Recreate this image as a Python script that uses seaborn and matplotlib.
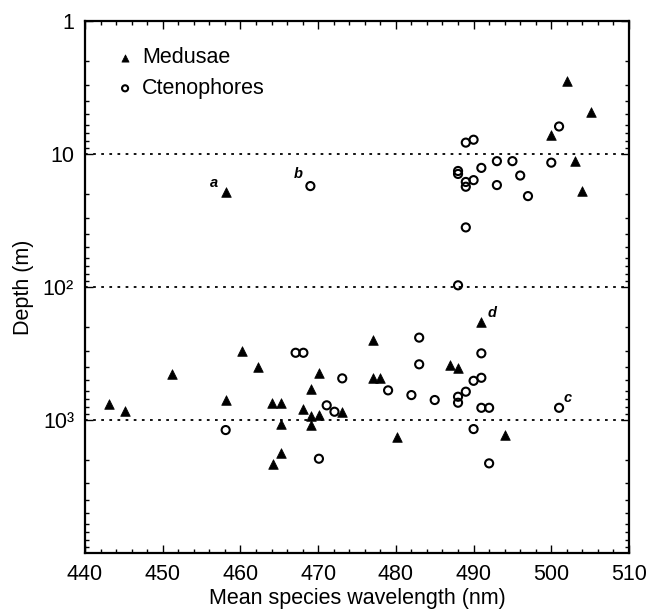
import pandas as pd
import matplotlib.pyplot as plt
from matplotlib.ticker import MultipleLocator, NullFormatter
import seaborn as sns

# Medusae: mean species wavelength (nm) and depth (m)
med_wavelength = [443.1, 445.1, 451.2, 458.1, 458.2, 460.2, 462.2, 464.1, 465.2, 465.2,
                  465.2, 464.2, 468.1, 469.1, 469.1, 469.1, 470.1, 470.1, 473.1, 477.0,
                  477.0, 478.0, 480.1, 487.0, 488.0, 491.0, 494.0, 500.0, 502.0, 503.0,
                  504.0, 505.1]
med_depth = [762, 851, 451, 707, 19.4, 301, 402, 741, 741, 1080,
             1778, 2142, 831, 585, 933, 1091, 917, 446, 871, 250,
             486, 486, 1336, 388, 408, 182, 1297, 7.2, 2.81, 11.3,
             18.9, 4.81]

# Ctenophores
cte_wavelength = [458.1, 467.1, 468.1, 469.0, 470.1, 471.1, 472.1, 473.1, 479.0, 482.0,
                  483.0, 483.0, 485.0, 488.0, 488.0, 488.0, 489.0, 490.0, 490.0, 491.0,
                  491.0, 491.0, 492.0, 492.0, 501.0, 501.0, 489.0, 490.0, 493.0, 495.0,
                  500.0, 491.0, 488.0, 488.0, 496.0, 489.0, 490.0, 489.0, 493.0, 497.0,
                  489.0]
cte_depth = [1189, 312, 312, 17.4, 1954, 775, 866, 486, 598, 649,
             240, 381, 707, 668, 741, 97, 612, 507, 1169, 315,
             481, 809, 809, 2117, 809, 6.2, 8.2, 7.8, 11.3, 11.3,
             11.6, 12.7, 13.4, 14.1, 14.5, 16.2, 15.7, 17.6, 17.1, 20.7,
             35.6]

# labelled species: (letter, wavelength, depth)
labels = [('a', 458.2, 19.4), ('b', 469.0, 17.4), ('c', 501.0, 809), ('d', 491.0, 182)]
label_offsets = {'a': (-9, 7), 'b': (-9, 8.5), 'c': (6, 7), 'd': (7.5, 6)}

ref_depths = [10, 100, 1000]
ytick_vals = [1, 10, 100, 1000]
ytick_labels = ['1', '10', '10²', '10³']

df_med = pd.DataFrame({'wavelength': med_wavelength, 'depth': med_depth})
df_cte = pd.DataFrame({'wavelength': cte_wavelength, 'depth': cte_depth})

sns.set_style('ticks')
plt.rcParams['font.family'] = ['Liberation Sans', 'DejaVu Sans']
plt.rcParams['text.color'] = 'black'
plt.rcParams['axes.labelcolor'] = 'black'
plt.rcParams['axes.edgecolor'] = 'black'
plt.rcParams['xtick.color'] = 'black'
plt.rcParams['ytick.color'] = 'black'
font_size = 15.5

fig = plt.figure(figsize=(6.61, 6.10), dpi=100)
ax = fig.add_axes([0.1286, 0.0934, 0.823, 0.872])

# dotted reference lines
for d in ref_depths:
    ax.axhline(d, color='black', linewidth=1.3, linestyle=(0, (1.5, 3)), zorder=1)

sns.scatterplot(data=df_med, x='wavelength', y='depth', marker='^', s=48,
                color='black', edgecolor='black', linewidth=0.5,
                label='Medusae', ax=ax, zorder=3)
sns.scatterplot(data=df_cte, x='wavelength', y='depth', marker='o', s=34,
                facecolors='none', edgecolor='black', linewidth=1.5,
                label='Ctenophores', ax=ax, zorder=3)

for letter, wl, dep in labels:
    ax.annotate(letter, (wl, dep), xytext=label_offsets[letter], textcoords='offset points',
                fontsize=10.5, fontstyle='italic', fontweight='bold', ha='center', va='center')

ax.set_yscale('log')
ax.set_ylim(1e4, 1)
ax.set_xlim(440, 510)
ax.set_yticks(ytick_vals)
ax.set_yticklabels(ytick_labels)
ax.yaxis.set_minor_formatter(NullFormatter())
ax.xaxis.set_major_locator(MultipleLocator(10))
ax.xaxis.set_minor_locator(MultipleLocator(2))

ax.tick_params(which='both', direction='in', top=True, right=True, width=1.0, colors='black')
ax.tick_params(which='major', length=6, labelsize=font_size, pad=8)
ax.tick_params(which='minor', length=3)
for sp in ax.spines.values():
    sp.set_linewidth(1.6)
    sp.set_color('black')
    sp.set_visible(True)

ax.set_xlabel('Mean species wavelength (nm)', fontsize=font_size, labelpad=2, color='black')
ax.set_ylabel('Depth (m)', fontsize=font_size, labelpad=6, color='black')

leg = ax.legend(loc='upper left', frameon=False, fontsize=font_size, markerscale=0.75,
                handlelength=0.8, handletextpad=0.4, borderaxespad=0.0, borderpad=0.4,
                labelspacing=0.45, bbox_to_anchor=(0.042, 0.967))
for t in leg.get_texts():
    t.set_color('black')

fig.savefig('out.png', dpi=100)
